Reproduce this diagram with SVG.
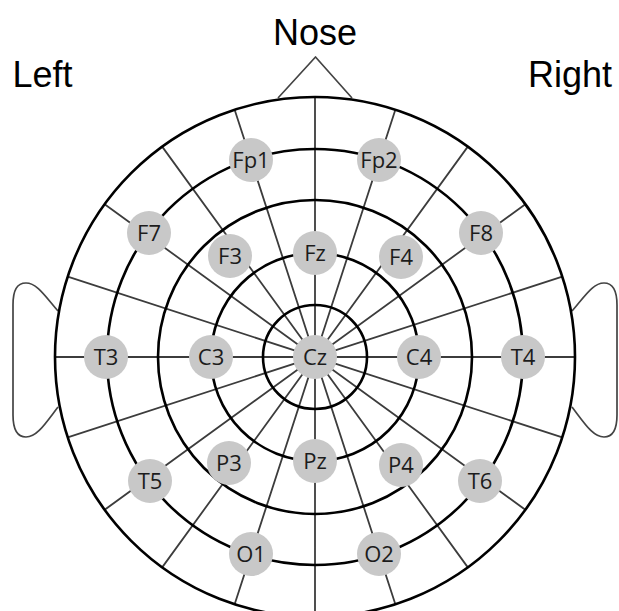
<svg xmlns="http://www.w3.org/2000/svg" width="619" height="611" viewBox="0 0 619 611">
<style>
.lbl{font-family:"Liberation Sans",Arial,sans-serif;font-size:36px;fill:#000}
.ring{fill:none;stroke:#000;stroke-width:2.6}
.rad{fill:none;stroke:#3c3c3c;stroke-width:1.8}
.thin{fill:none;stroke:#444;stroke-width:1.7;stroke-linejoin:round}
.el circle{fill:#c8c8c8}
.el text{font-family:"Open Sans","Noto Sans",sans-serif;font-size:22px;fill:#1c1c1c;text-anchor:middle}
</style>
<rect width="619" height="611" fill="#fff"/>
<g id="labels">
<text class="lbl" x="315" y="45" text-anchor="middle">Nose</text>
<text class="lbl" x="12.5" y="87">Left</text>
<text class="lbl" x="612" y="87" text-anchor="end">Right</text>
</g>
<g id="head">
<path class="thin" d="M278,98 L315.5,57 L352,98"/>
<path class="thin" d="M58,311 C45,296 37,283 26,283 C17,283 13,290 13,305 L13,415 C13,430 17,437 26,437 C37,437 45,424 58,407"/>
<path class="thin" d="M572,311 C585,296 593,283 604,283 C613,283 617,290 617,305 L617,415 C617,430 613,437 604,437 C593,437 585,424 572,407"/>
</g>
<g id="connectors">
<path class="rad" d="M315,97 L315,617 M395.35,109.72 L234.65,604.28 M467.83,146.65 L162.17,567.35 M525.35,204.17 L104.65,509.83 M562.28,276.65 L67.72,437.35 M575,357 L55,357 M562.28,437.35 L67.72,276.65 M525.35,509.83 L104.65,204.17 M467.83,567.35 L162.17,146.65 M395.35,604.28 L234.65,109.72"/>
</g>
<g id="rings">
<circle class="ring" cx="315" cy="357" r="52"/>
<circle class="ring" cx="315" cy="357" r="104"/>
<circle class="ring" cx="315" cy="357" r="157"/>
<circle class="ring" cx="315" cy="357" r="208"/>
<circle class="ring" cx="315" cy="357" r="260"/>
</g>
<g id="Fp1" class="el"><circle cx="251" cy="160" r="22"/><text x="251" y="168">Fp1</text></g>
<g id="Fp2" class="el"><circle cx="379" cy="160" r="22"/><text x="379" y="168">Fp2</text></g>
<g id="F7" class="el"><circle cx="149" cy="233" r="22"/><text x="149" y="241">F7</text></g>
<g id="F3" class="el"><circle cx="230" cy="256" r="22"/><text x="230" y="264">F3</text></g>
<g id="Fz" class="el"><circle cx="315" cy="253" r="22"/><text x="315" y="261">Fz</text></g>
<g id="F4" class="el"><circle cx="401" cy="257" r="22"/><text x="401" y="265">F4</text></g>
<g id="F8" class="el"><circle cx="481" cy="233" r="22"/><text x="481" y="241">F8</text></g>
<g id="T3" class="el"><circle cx="106" cy="357" r="22"/><text x="106" y="365">T3</text></g>
<g id="C3" class="el"><circle cx="211" cy="357" r="22"/><text x="211" y="365">C3</text></g>
<g id="Cz" class="el"><circle cx="315" cy="357" r="22"/><text x="315" y="365">Cz</text></g>
<g id="C4" class="el"><circle cx="419" cy="357" r="22"/><text x="419" y="365">C4</text></g>
<g id="T4" class="el"><circle cx="523" cy="357" r="22"/><text x="523" y="365">T4</text></g>
<g id="T5" class="el"><circle cx="150" cy="481" r="22"/><text x="150" y="489">T5</text></g>
<g id="P3" class="el"><circle cx="229" cy="463" r="22"/><text x="229" y="471">P3</text></g>
<g id="Pz" class="el"><circle cx="315" cy="461" r="22"/><text x="315" y="469">Pz</text></g>
<g id="P4" class="el"><circle cx="401" cy="465" r="22"/><text x="401" y="473">P4</text></g>
<g id="T6" class="el"><circle cx="480" cy="481" r="22"/><text x="480" y="489">T6</text></g>
<g id="O1" class="el"><circle cx="251" cy="554" r="22"/><text x="251" y="562">O1</text></g>
<g id="O2" class="el"><circle cx="379" cy="554" r="22"/><text x="379" y="562">O2</text></g>
</svg>
